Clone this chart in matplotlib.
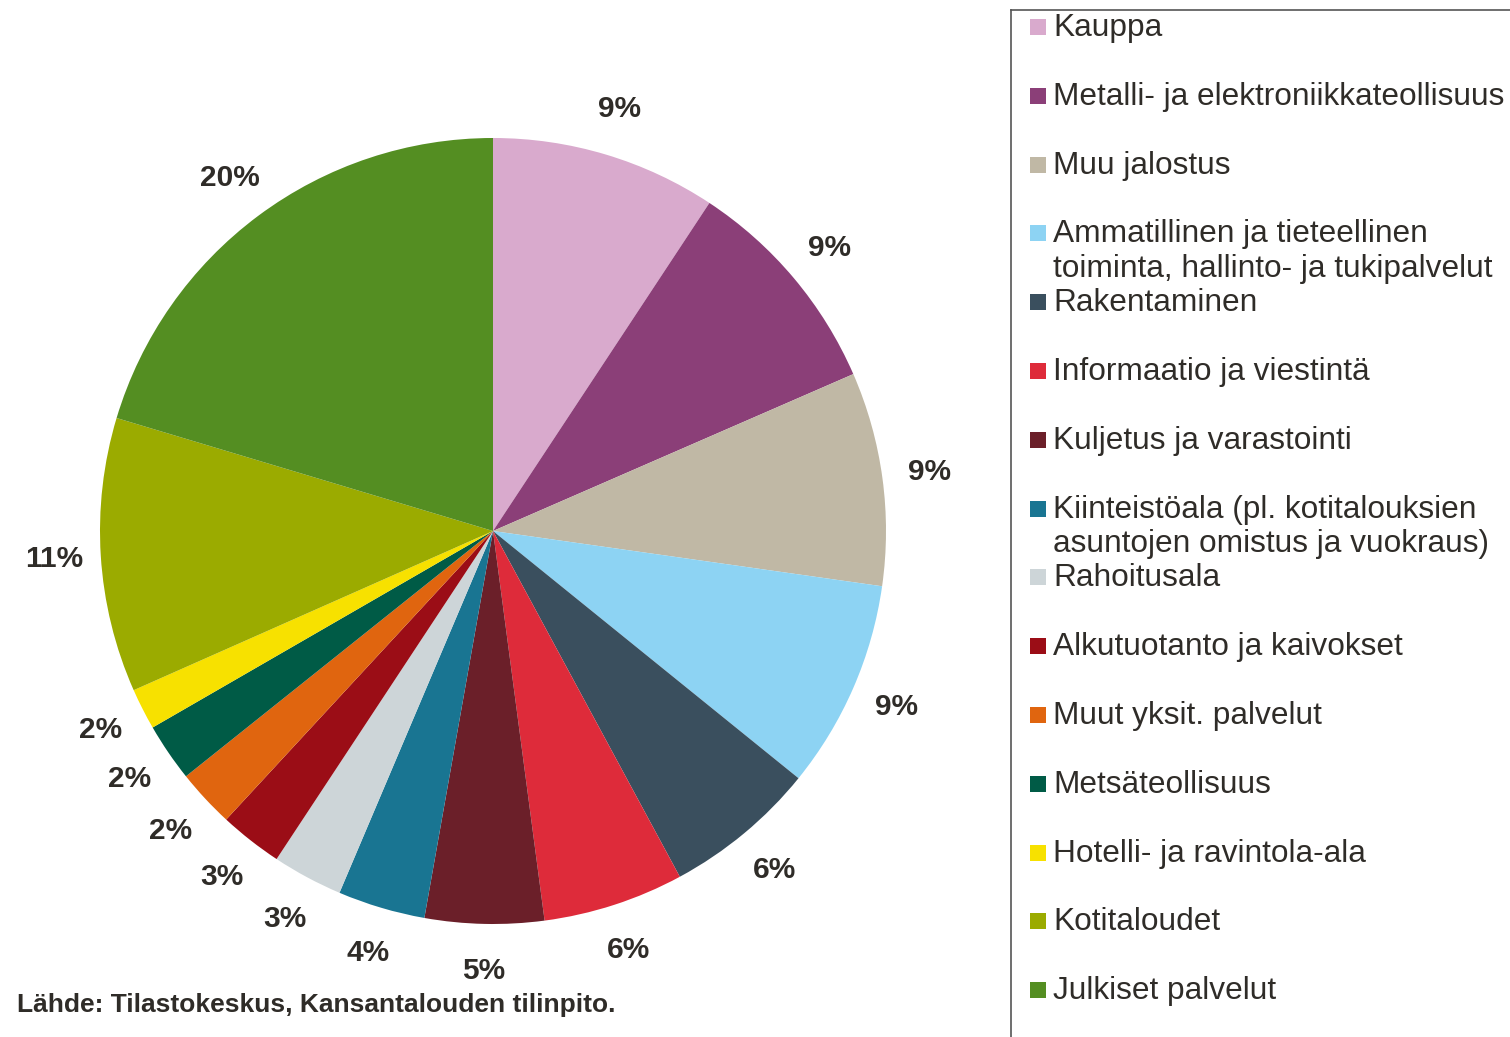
import matplotlib.pyplot as plt
from matplotlib.patches import Rectangle
from matplotlib.lines import Line2D

categories = ['Kauppa', 'Metalli- ja elektroniikkateollisuus', 'Muu jalostus',
              'Ammatillinen ja tieteellinen\ntoiminta, hallinto- ja tukipalvelut',
              'Rakentaminen', 'Informaatio ja viestintä', 'Kuljetus ja varastointi',
              'Kiinteistöala (pl. kotitalouksien\nasuntojen omistus ja vuokraus)',
              'Rahoitusala', 'Alkutuotanto ja kaivokset', 'Muut yksit. palvelut',
              'Metsäteollisuus', 'Hotelli- ja ravintola-ala', 'Kotitaloudet',
              'Julkiset palvelut']
shares = [9.3, 9.2, 8.8, 8.6, 6.3, 5.8, 4.9, 3.6, 2.9, 2.6, 2.4, 2.4, 1.7, 11.3, 20.4]
colors = ['#d9aacd', '#8b3f78', '#c0b8a5', '#8dd3f3', '#3a4f5e', '#de2b3a', '#6b1f29',
          '#197592', '#cdd5d8', '#9b0d16', '#e0650f', '#005b46', '#f7e100', '#9bab00',
          '#548e22']

W, H = 1510, 1037
fig = plt.figure(figsize=(W / 100, H / 100), dpi=100)

text_col = '#2f2c28'
fam = ['Liberation Sans', 'DejaVu Sans']

# pie axes: centre (493, 531) px, radius 393 px
cx, cy, r = 493, 531, 393
half = 400
ax = fig.add_axes([(cx - half) / W, (H - cy - half) / H, 2 * half / W, 2 * half / H])
wedges, _, pct = ax.pie(shares, colors=colors, startangle=90, counterclock=False,
                        autopct=lambda p: f'{p:.0f}%', pctdistance=1.12,
                        wedgeprops=dict(linewidth=0))
for t in pct:
    t.set_fontsize(21.5)
    t.set_fontweight('bold')
    t.set_color(text_col)
    t.set_family(fam)
lim = half / r
ax.set_xlim(-lim, lim)
ax.set_ylim(-lim, lim)
ax.axis('off')

fig.text(17 / W, 1 - 1005 / H, 'Lähde: Tilastokeskus, Kansantalouden tilinpito.',
         fontsize=19, fontweight='bold', color=text_col, family=fam,
         ha='left', va='center')

# legend frame
fig.add_artist(Line2D([1011 / W, 1011 / W], [0, 1 - 10 / H], color='#555555', lw=1.2))
fig.add_artist(Line2D([1011 / W, 1], [1 - 10 / H, 1 - 10 / H], color='#555555', lw=1.2))

y0, step = 27, 68.8
for i, (lab, col) in enumerate(zip(categories, colors)):
    y = y0 + step * i
    fig.add_artist(Rectangle((1030 / W, 1 - (y + 8) / H), 16 / W, 16 / H,
                             transform=fig.transFigure, color=col, lw=0))
    fig.text(1053 / W, 1 - (y - 14) / H, lab, fontsize=22.8, color=text_col,
             family=fam, ha='left', va='top', linespacing=1.2)

fig.savefig('out.png', dpi=100)
